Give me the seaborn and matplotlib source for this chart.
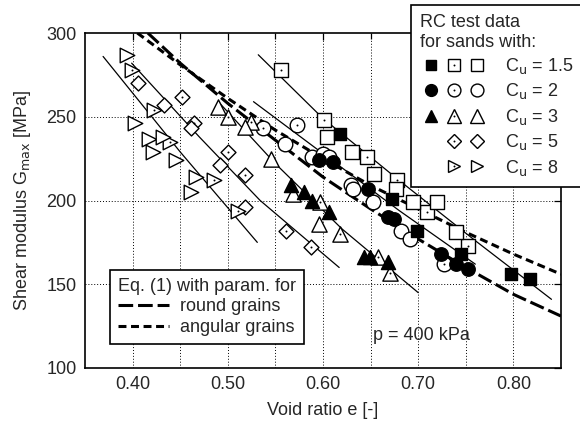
import numpy as np
import pandas as pd
import matplotlib
matplotlib.use("Agg")
import matplotlib.pyplot as plt
from matplotlib.lines import Line2D
from matplotlib.legend_handler import HandlerTuple
import seaborn as sns

# ---------------- data ----------------
# Cu = 1.5 (squares)
sq_filled_e = [0.618, 0.673, 0.699, 0.745, 0.798, 0.817]
sq_filled_G = [240, 201, 182, 168, 156, 153]
sq_dot_e = [0.556, 0.601, 0.646, 0.678, 0.709, 0.752]
sq_dot_G = [278, 248, 226, 212, 193, 173]
sq_open_e = [0.604, 0.630, 0.654, 0.677, 0.695, 0.720, 0.740]
sq_open_G = [238, 229, 216, 207, 199, 199, 181]
# Cu = 2 (circles)
ci_filled_e = [0.596, 0.610, 0.647, 0.668, 0.675, 0.724, 0.740, 0.752]
ci_filled_G = [224, 223, 207, 190, 189, 168, 162, 159]
ci_dot_e = [0.537, 0.573, 0.727]
ci_dot_G = [243, 245, 162]
ci_open_e = [0.560, 0.588, 0.600, 0.606, 0.629, 0.632, 0.653, 0.682, 0.691]
ci_open_G = [234, 226, 228, 226, 209, 207, 199, 182, 177]
# Cu = 3 (triangles)
tr_filled_e = [0.566, 0.580, 0.588, 0.606, 0.643, 0.649, 0.668]
tr_filled_G = [209, 205, 200, 193, 166, 166, 163]
tr_dot_e = [0.500, 0.524, 0.597, 0.618, 0.658, 0.670]
tr_dot_G = [250, 247, 199, 180, 166, 157]
tr_open_e = [0.490, 0.518, 0.545, 0.569, 0.596]
tr_open_G = [256, 244, 225, 204, 186]
# Cu = 5 (diamonds)
di_dot_e = [0.452, 0.464, 0.500, 0.518, 0.561, 0.587]
di_dot_G = [262, 246, 229, 215, 182, 172]
di_open_e = [0.406, 0.433, 0.461, 0.492, 0.518]
di_open_G = [270, 257, 243, 221, 196]
# Cu = 8 (right triangles)
rt_dot_e = [0.399, 0.422, 0.439, 0.486, 0.511]
rt_dot_G = [278, 254, 235, 212, 194]
rt_open_e = [0.394, 0.403, 0.417, 0.421, 0.432, 0.446, 0.467, 0.461]
rt_open_G = [287, 246, 237, 229, 238, 224, 214, 205]

# thin fitted lines for individual sands
fit_sq_e = [0.532, 0.600, 0.680, 0.760, 0.840]
fit_sq_G = [287, 249, 212, 176, 141]
fit_ci_e = [0.527, 0.600, 0.680, 0.760]
fit_ci_G = [259, 228, 194, 162]
fit_tr_e = [0.490, 0.550, 0.620, 0.700]
fit_tr_G = [259, 222, 183, 145]
fit_di_e = [0.399, 0.470, 0.534, 0.617]
fit_di_G = [282, 238, 200, 160]
fit_rt_e = [0.369, 0.450, 0.531]
fit_rt_G = [286, 229, 175]

# Eq. (1) curves
round_e = [0.416, 0.45, 0.50, 0.55, 0.60, 0.65, 0.70, 0.75, 0.80, 0.85]
round_G = [300, 282, 258, 236, 214, 195, 177, 160, 144, 131]
angular_e = [0.405, 0.45, 0.50, 0.55, 0.60, 0.65, 0.70, 0.75, 0.80, 0.85]
angular_G = [300, 281, 261, 242, 225, 209, 195, 181, 168, 156]

x_ticks = [0.40, 0.50, 0.60, 0.70, 0.80]
x_tick_labels = ["0.40", "0.50", "0.60", "0.70", "0.80"]
y_ticks = [100, 150, 200, 250, 300]
cu_labels = ["C$_{\\rm u}$ = 1.5", "C$_{\\rm u}$ = 2", "C$_{\\rm u}$ = 3",
             "C$_{\\rm u}$ = 5", "C$_{\\rm u}$ = 8"]

# ---------------- style ----------------
sns.set_style("white")
plt.rcParams["font.family"] = ["Liberation Sans", "DejaVu Sans"]
plt.rcParams["mathtext.default"] = "regular"
FS = 13

fig = plt.figure(figsize=(5.8, 4.32), dpi=100)
ax = fig.add_axes([85 / 580, 1 - 368 / 432, 476 / 580, 335 / 432])

markers = {"sq": ("s", 9.4), "ci": ("o", 10.5), "tr": ("^", 11.0),
           "di": ("D", 7.6), "rt": (">", 10.5)}

series = [
    ("sq", "filled", sq_filled_e, sq_filled_G), ("sq", "dot", sq_dot_e, sq_dot_G),
    ("sq", "open", sq_open_e, sq_open_G),
    ("ci", "filled", ci_filled_e, ci_filled_G), ("ci", "dot", ci_dot_e, ci_dot_G),
    ("ci", "open", ci_open_e, ci_open_G),
    ("tr", "filled", tr_filled_e, tr_filled_G), ("tr", "dot", tr_dot_e, tr_dot_G),
    ("tr", "open", tr_open_e, tr_open_G),
    ("di", "dot", di_dot_e, di_dot_G), ("di", "open", di_open_e, di_open_G),
    ("rt", "dot", rt_dot_e, rt_dot_G), ("rt", "open", rt_open_e, rt_open_G),
]

# thin fit lines
for fe, fg in [(fit_sq_e, fit_sq_G), (fit_ci_e, fit_ci_G), (fit_tr_e, fit_tr_G),
               (fit_di_e, fit_di_G), (fit_rt_e, fit_rt_G)]:
    sns.lineplot(x=fe, y=fg, ax=ax, color="black", lw=0.9, zorder=2, sort=False)

round_style = dict(color="black", lw=2.2, dashes=(4.8, 1.6))
ang_style = dict(color="black", lw=2.2, dashes=(2.6, 1.5))
ax.plot(round_e, round_G, zorder=3, **round_style)
ax.plot(angular_e, angular_G, zorder=3, **ang_style)

for shape, kind, e, g in series:
    m, ms = markers[shape]
    df = pd.DataFrame({"e": e, "G": g})
    if kind == "filled":
        sns.scatterplot(data=df, x="e", y="G", ax=ax, marker=m, s=ms ** 2 * 0.85,
                        color="black", edgecolor="black", linewidth=1.0, zorder=5)
    else:
        sns.scatterplot(data=df, x="e", y="G", ax=ax, marker=m, s=ms ** 2,
                        color="white", edgecolor="black", linewidth=1.0, zorder=4)
        if kind == "dot":
            sns.scatterplot(data=df, x="e", y="G", ax=ax, marker="o", s=2.0,
                            color="black", edgecolor="black", linewidth=0, zorder=4.5)

# ---------------- axes ----------------
ax.set_xlim(0.35, 0.85)
ax.set_ylim(100, 300)
ax.set_xticks(x_ticks)
ax.set_xticklabels(x_tick_labels)
ax.set_xticks(np.arange(0.45, 0.85, 0.1), minor=True)
ax.set_yticks(y_ticks)
ax.tick_params(which="both", direction="in", top=True, right=True,
               labelsize=FS, length=5, width=0.9, color="black", pad=6)
ax.tick_params(which="minor", length=4)
for sp in ax.spines.values():
    sp.set_color("black")
    sp.set_linewidth(1.2)
ax.grid(True, which="both", axis="x", linestyle=(0, (1, 2)), color="black", lw=0.7)
ax.grid(False, axis="y")
for yv in [150, 200, 250]:
    ax.axhline(yv, linestyle=(0, (1, 2)), color="black", lw=0.7, zorder=0.5)
ax.set_axisbelow(True)
ax.set_xlabel("Void ratio e [-]", fontsize=FS, labelpad=6)
ax.set_ylabel("Shear modulus G$_{\\rm max}$ [MPa]", fontsize=FS, labelpad=10)

ax.text(0.652, 119.5, "p = 400 kPa", fontsize=FS, ha="left", va="center")

# ---------------- legends ----------------
LS = 0.88
def mk(shape, kind):
    m, ms = markers[shape]
    ms = ms * LS
    if kind == "filled":
        return Line2D([], [], ls="none", marker=m, ms=ms * 0.92, mfc="black", mec="black", mew=1.0)
    op = Line2D([], [], ls="none", marker=m, ms=ms, mfc="white", mec="black", mew=1.0)
    if kind == "open":
        return op
    dot = Line2D([], [], ls="none", marker="o", ms=1.4, mfc="black", mec="black", mew=0)
    return (op, dot)

blank = Line2D([], [], ls="none")
rows = [
    (mk("sq", "filled"), mk("sq", "dot"), mk("sq", "open")),
    (mk("ci", "filled"), mk("ci", "dot"), mk("ci", "open")),
    (mk("tr", "filled"), mk("tr", "dot"), mk("tr", "open")),
    (blank, mk("di", "dot"), mk("di", "open")),
    (blank, mk("rt", "dot"), mk("rt", "open")),
]
hmap = {r: HandlerTuple(ndivide=None, pad=0.0) for r in rows}
leg1 = ax.legend(rows, cu_labels, handler_map=hmap, loc="upper left",
                 bbox_to_anchor=(411 / 580, 1 - 5 / 432), bbox_transform=fig.transFigure,
                 fontsize=FS, title="RC test data\nfor sands with:", title_fontsize=FS,
                 alignment="left", frameon=True, fancybox=False, edgecolor="black",
                 framealpha=1, handlelength=3.8, handletextpad=0.9, labelspacing=0.3,
                 borderpad=0.5, borderaxespad=0)
leg1.get_frame().set_linewidth(1.2)
leg1.set_zorder(10)
ax.add_artist(leg1)

h_round = Line2D([], [], **round_style)
h_ang = Line2D([], [], **ang_style)
leg2 = ax.legend([h_round, h_ang], ["round grains", "angular grains"], loc="lower left",
                 bbox_to_anchor=((110 - 85) / 476, (368 - 344) / 335),
                 fontsize=FS, title="Eq. (1) with param. for", title_fontsize=FS,
                 alignment="left", frameon=True, fancybox=False, edgecolor="black",
                 framealpha=1, handlelength=2.8, handletextpad=0.65, labelspacing=0.2,
                 borderpad=0.45, borderaxespad=0)
leg2.get_frame().set_linewidth(1.2)
leg2.set_zorder(10)

fig.savefig("out.png", dpi=100)
